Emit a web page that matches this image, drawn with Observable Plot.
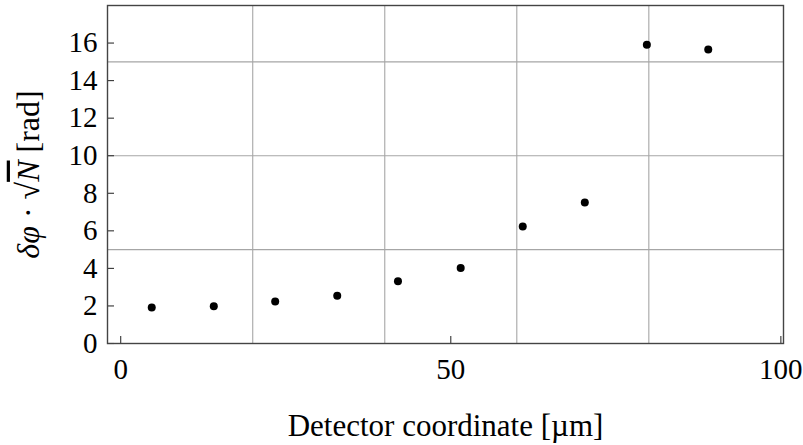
<!DOCTYPE html>
<html><head><meta charset="utf-8">
<script src="https://cdn.jsdelivr.net/npm/d3@7"></script>
<script src="https://cdn.jsdelivr.net/npm/@observablehq/plot@0.6"></script>
<style>body{margin:0;background:#fff} svg text{font-family:'Liberation Serif','DejaVu Serif',serif !important}</style>
</head><body><div id="chart"></div>
<script>
const detectorX = [4.7, 14.1, 23.4, 32.8, 42.0, 51.5, 60.9, 70.3, 79.7, 89.0];
const phaseNoise = [1.92, 1.99, 2.24, 2.54, 3.32, 4.02, 6.23, 7.51, 15.91, 15.66];
const xTicks = [0, 50, 100];
const yTicks = [0, 2, 4, 6, 8, 10, 12, 14, 16];
const xGrid = [20, 40, 60, 80];
const yGrid = [5, 10, 15];
const xLabel = "Detector coordinate [µm]";

const data = detectorX.map((x, i) => ({x, y: phaseNoise[i]}));
const font = "Liberation Serif";

const chart = Plot.plot({
  width: 803, height: 445,
  marginLeft: 107, marginRight: 20, marginTop: 5, marginBottom: 102,
  style: {fontFamily: font, background: "#fff"},
  x: {domain: [-2, 100.4]},
  y: {domain: [0, 18]},
  marks: [
    Plot.ruleX(xGrid, {stroke: "#a6a6a6", strokeWidth: 1.1}),
    Plot.ruleY(yGrid, {stroke: "#a6a6a6", strokeWidth: 1.1}),
    Plot.axisY({ticks: yTicks, tickSize: -7, tickFormat: () => "", label: null, stroke: "#333", strokeWidth: 1.1, strokeOpacity: 1}),
    Plot.axisY({ticks: yTicks, tickSize: 0, tickPadding: 10, label: null, fontSize: 29, fontFamily: font, fill: "#000"}),
    Plot.axisX({ticks: xTicks, tickSize: -7, tickFormat: () => "", label: null, stroke: "#333", strokeWidth: 1.1, strokeOpacity: 1}),
    Plot.axisX({ticks: xTicks, tickSize: 0, tickPadding: 15, label: null, fontSize: 29, fontFamily: font, fill: "#000"}),
    Plot.frame({stroke: "#444", strokeWidth: 1.4}),
    Plot.dot(data, {x: "x", y: "y", r: 4, fill: "black", stroke: "none"}),
    Plot.text([xLabel], {frameAnchor: "bottom", dy: 83, text: d => d, fontSize: 31, fontFamily: font, fill: "#000", lineAnchor: "middle"}),
    Plot.text(["ylabel"], {frameAnchor: "left", dx: -79, rotate: -90, textAnchor: "middle", text: d => d, fontSize: 32, fontFamily: font, fill: "#000", lineAnchor: "middle"})
  ]
});
document.getElementById("chart").appendChild(chart);

// rich y label: δφ · √N̄ [rad]
const t = d3.select(chart).selectAll("text").filter(function(){ return this.textContent === "ylabel"; });
t.text(null);
t.append("tspan").attr("font-style", "italic").text("δφ");
t.append("tspan").text(" · √");
t.append("tspan").attr("font-style", "italic").style("text-decoration", "overline").text("N");
t.append("tspan").text(" [rad]");
</script></body></html>
